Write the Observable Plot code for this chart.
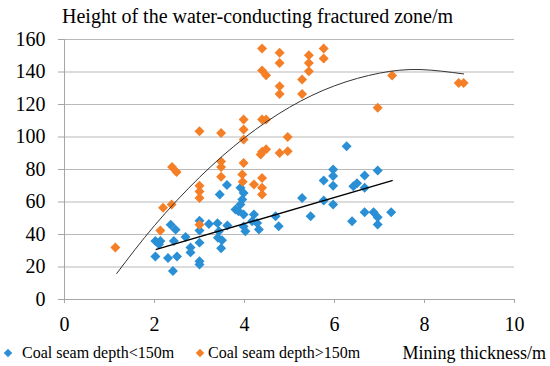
<!DOCTYPE html>
<html>
<head>
<meta charset="utf-8">
<script src="https://cdn.jsdelivr.net/npm/d3@7"></script>
<script src="https://cdn.jsdelivr.net/npm/@observablehq/plot@0.6"></script>
<style>
  html, body { margin: 0; padding: 0; background: #fff; }
  body { width: 550px; height: 366px; overflow: hidden; font-family: "Liberation Serif", "Times New Roman", serif; color: #000; }
  #title { position: relative; top: 3px; height: 26px; line-height: 26px; font-size: 20px; padding-left: 62px; white-space: nowrap; }
  #chart svg { display: block; }
  #legend { position: relative; height: 26px; }
  #legend .item { position: absolute; top: 0; height: 26px; line-height: 26px; font-size: 16px; white-space: nowrap; }
  #legend .sw { position: absolute; top: 10px; width: 6px; height: 6px; transform: rotate(45deg); }
  #legend .xlabel { position: absolute; top: 0; height: 26px; line-height: 26px; font-size: 18px; white-space: nowrap; }
</style>
</head>
<body>
<div id="title">Height of the water-conducting fractured zone/m</div>
<div id="chart"></div>
<div id="legend"></div>
<script>
// Series: coal seam depth < 150 m (blue)
const shallowX = [2.02, 2.13, 2.10, 2.02, 2.30, 2.50, 2.41, 2.36, 2.47, 2.43, 2.69, 2.80, 2.80, 3.00, 3.00, 3.00, 3.00, 3.00,
  3.21, 3.40, 3.43, 3.41, 3.50, 3.48, 3.62, 3.61, 3.45, 3.91, 3.98, 3.95, 3.91, 3.80, 3.87, 3.98, 3.98, 4.02,
  4.21, 4.17, 4.28, 4.32, 4.69, 4.76, 5.28, 5.47, 5.76, 5.76, 5.97, 5.97, 5.97, 5.97, 6.27, 6.39, 6.42, 6.50,
  6.67, 6.96, 6.67, 6.67, 6.87, 6.96, 6.96, 7.26];
const shallowY = [36, 36, 34, 26.5, 25.5, 26.5, 17.5, 46, 43, 36, 38.5, 32, 29, 35, 23.5, 21.5, 48.5, 42.5,
  46.5, 47, 42, 38, 36.5, 31.5, 45.5, 70.5, 64.6, 68.7, 65.6, 61.5, 58.5, 55.4, 54.3, 52.3, 45, 42,
  52.3, 48.2, 47.1, 43.1, 51.3, 45.1, 62.5, 51.3, 73.2, 60.9, 58.5, 80, 76, 70, 94.3, 48.2, 69.7, 71.5,
  76.3, 79.4, 68.7, 53.7, 53.7, 50.6, 46.1, 53.7];

// Series: coal seam depth > 150 m (orange)
const deepX = [1.13, 2.13, 2.19, 2.38, 2.39, 2.49, 3.00, 3.00, 3.00, 3.00, 3.00, 3.48, 3.48, 3.48, 3.48,
  3.98, 3.98, 3.98, 3.98, 3.95, 3.96, 4.39, 4.39, 4.48, 4.39, 4.48, 4.39, 4.48, 4.36, 4.39, 4.21, 4.39, 4.39,
  4.78, 4.78, 4.78, 4.78, 4.78, 4.96, 4.96, 5.28, 5.28, 5.43, 5.43, 5.43, 5.76, 5.76, 6.96, 7.28, 8.76, 8.87];
const deepY = [32, 42.5, 56.5, 58.5, 81.5, 78.5, 103.5, 70, 66.5, 62.5, 46, 102.5, 85, 81.5, 75.5,
  110.8, 104.6, 98.5, 84, 77, 72.5, 154.5, 141, 138, 110.8, 110.8, 91, 92.5, 89.2, 74.8, 70.8, 68.7, 64.6,
  151.8, 145.6, 131.3, 126.5, 90.2, 100, 91.3, 135.4, 126.5, 150.3, 145.6, 140.5, 154.5, 148.3, 118, 137.8, 133.3, 133.3];

// Trend lines
const trendShallowX = [2.04, 7.28];
const trendShallowY = [30.8, 73.2];
const trendDeepX = [1.16, 2, 3, 4, 5, 6, 7, 7.9, 8.87];
const trendDeepY = [16, 45.5, 75.2, 99.5, 118.3, 131.5, 139.3, 141.5, 138.8];

// Axes
const xTicks = [0, 2, 4, 6, 8, 10];
const yTicks = [0, 20, 40, 60, 80, 100, 120, 140, 160];

const seriesNames = ["Coal seam depth<150m", "Coal seam depth>150m"];
const seriesColors = ["#2a8fd4", "#f57f27"];
const xLabel = "Mining thickness/m";

const shallow = shallowX.map((x, i) => ({x, y: shallowY[i]}));
const deep = deepX.map((x, i) => ({x, y: deepY[i]}));
const tShallow = trendShallowX.map((x, i) => ({x, y: trendShallowY[i]}));
const tDeep = trendDeepX.map((x, i) => ({x, y: trendDeepY[i]}));

const axisColor = "#a6a6a6";
const chart = Plot.plot({
  width: 550,
  height: 314,
  marginTop: 13,
  marginLeft: 64,
  marginRight: 36,
  marginBottom: 41,
  x: {domain: [0, 10]},
  y: {domain: [0, 160]},
  style: {fontFamily: "'Liberation Serif', 'Times New Roman', serif", fontSize: "20px", color: "#000", background: "#fff"},
  marks: [
    Plot.gridY({ticks: yTicks, stroke: "#b9b9b9", strokeOpacity: 1}),
    Plot.axisY({ticks: yTicks, tickSize: 6, tickPadding: 13, label: null, stroke: axisColor, fill: "#000", fontSize: 20}),
    Plot.axisX({ticks: xTicks, tickSize: 4, tickPadding: 13.5, label: null, stroke: axisColor, fill: "#000", fontSize: 20}),
    Plot.ruleX([0], {stroke: axisColor}),
    Plot.ruleY([0], {stroke: axisColor}),
    Plot.dot(shallow, {x: "x", y: "y", symbol: "diamond2", r: 4.5, fill: seriesColors[0], stroke: "none"}),
    Plot.dot(deep, {x: "x", y: "y", symbol: "diamond2", r: 4.5, fill: seriesColors[1], stroke: "none"}),
    Plot.line(tDeep, {x: "x", y: "y", curve: "natural", stroke: "#333", strokeWidth: 1}),
    Plot.line(tShallow, {x: "x", y: "y", stroke: "#000", strokeWidth: 1.4})
  ]
});
document.getElementById("chart").appendChild(chart);

// Legend + x-axis title row
const legend = document.getElementById("legend");
const swatchLeft = [5, 197];
const textLeft = [22, 208];
seriesNames.forEach((name, i) => {
  const sw = document.createElement("span");
  sw.className = "sw";
  sw.style.left = swatchLeft[i] + "px";
  sw.style.background = seriesColors[i];
  legend.appendChild(sw);
  const t = document.createElement("span");
  t.className = "item";
  t.style.left = textLeft[i] + "px";
  t.textContent = name;
  legend.appendChild(t);
});
const xl = document.createElement("span");
xl.className = "xlabel";
xl.style.right = "4px";
xl.textContent = xLabel;
legend.appendChild(xl);
</script>
</body>
</html>
